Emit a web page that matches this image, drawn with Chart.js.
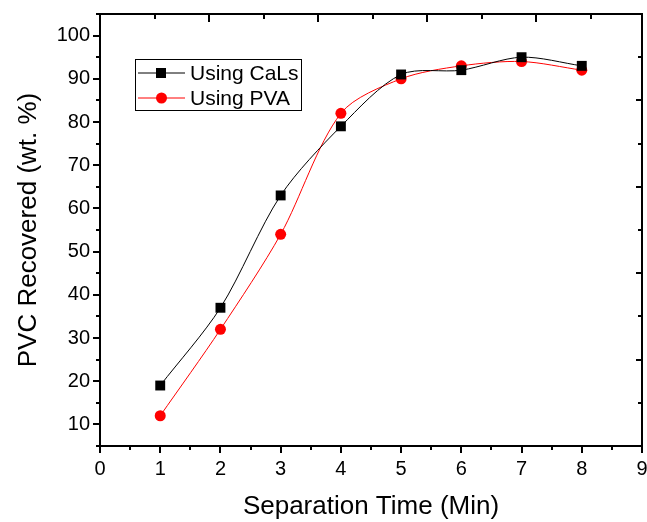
<!DOCTYPE html>
<html>
<head>
<meta charset="utf-8">
<script src="https://cdn.jsdelivr.net/npm/chart.js@4.4.1/dist/chart.umd.min.js"></script>
<style>
  html, body { margin: 0; padding: 0; background: #fff; }
  #wrap { width: 647px; height: 522px; }
</style>
</head>
<body>
<div id="wrap"><canvas id="chart" width="647" height="522"></canvas></div>
<script>
// data
const times = [1, 2, 3, 4, 5, 6, 7, 8];
const calsValues = [19, 37, 63, 79, 91, 92, 95, 93];
const pvaValues = [12, 32, 54, 82, 90, 93, 94, 92];
const xTicks = [0, 1, 2, 3, 4, 5, 6, 7, 8, 9];
const yTicks = [10, 20, 30, 40, 50, 60, 70, 80, 90, 100];

const FONT = "'Liberation Sans', Arial, sans-serif";

function toPoints(xs, ys) {
  return xs.map((x, i) => ({ x: x, y: ys[i] }));
}

// axis frame, outward ticks on left/bottom, inward ticks on top/right (Origin style)
const framePlugin = {
  id: "frame",
  afterDatasetsDraw(chart) {
    const ctx = chart.ctx;
    const a = chart.chartArea;
    const xs = chart.scales.x;
    const ys = chart.scales.y;
    ctx.save();
    ctx.strokeStyle = "#000";
    ctx.lineWidth = 2;
    ctx.strokeRect(a.left, a.top, a.right - a.left, a.bottom - a.top);
    ctx.beginPath();
    // bottom ticks
    for (let v = xs.min; v <= xs.max + 1e-9; v += 0.5) {
      const px = Math.round(xs.getPixelForValue(v));
      const len = Number.isInteger(v) ? 7 : 4;
      ctx.moveTo(px, a.bottom);
      ctx.lineTo(px, a.bottom + len);
    }
    // left ticks
    for (let v = 5; v <= ys.max + 1e-9; v += 5) {
      const py = Math.round(ys.getPixelForValue(v));
      const len = v % 10 === 0 ? 7 : 4;
      ctx.moveTo(a.left, py);
      ctx.lineTo(a.left - len, py);
    }
    // top ticks (inward)
    const topStep = (a.right - a.left) / 9.94;
    for (let k = 1; a.left + k * topStep < a.right - 2; k++) {
      const px = Math.round(a.left + k * topStep);
      ctx.moveTo(px, a.top);
      ctx.lineTo(px, a.top + (k % 2 === 0 ? 8 : 5));
    }
    // right ticks (inward)
    for (let v = 95, k = 0; v > ys.min; v -= 10, k++) {
      const py = Math.round(ys.getPixelForValue(v));
      ctx.moveTo(a.right, py);
      ctx.lineTo(a.right - (k % 2 === 1 ? 6 : 4), py);
    }
    ctx.stroke();

    // legend box
    const lx = 135, ly = 59, lw = 166, lh = 51;
    ctx.lineWidth = 1;
    ctx.strokeRect(lx + 0.5, ly + 0.5, lw, lh);
    ctx.font = "21px " + FONT;
    ctx.textBaseline = "middle";
    chart.data.datasets.forEach((ds, i) => {
      const cy = ly + 14 + i * 25;
      ctx.strokeStyle = ds.borderColor;
      ctx.lineWidth = 1;
      ctx.beginPath();
      ctx.moveTo(lx + 3, cy);
      ctx.lineTo(lx + 50, cy);
      ctx.stroke();
      ctx.fillStyle = ds.pointBackgroundColor;
      if (ds.pointStyle === "rect") {
        ctx.fillRect(lx + 21, cy - 5, 10, 10);
      } else {
        ctx.beginPath();
        ctx.arc(lx + 26.5, cy, 5.5, 0, Math.PI * 2);
        ctx.fill();
      }
      ctx.fillStyle = "#000";
      ctx.fillText(ds.label, lx + 55, cy + 1);
    });
    ctx.restore();
  },
};

new Chart(document.getElementById("chart"), {
  type: "line",
  data: {
    datasets: [
      {
        label: "Using CaLs",
        data: toPoints(times, calsValues),
        borderColor: "#000000",
        backgroundColor: "#000000",
        borderWidth: 1,
        pointStyle: "rect",
        pointRadius: 7,
        pointHoverRadius: 7,
        pointBackgroundColor: "#000000",
        pointBorderWidth: 0,
        tension: 0.3,
      },
      {
        label: "Using PVA",
        data: toPoints(times, pvaValues),
        borderColor: "#ff0000",
        backgroundColor: "#ff0000",
        borderWidth: 1,
        pointStyle: "circle",
        pointRadius: 5.5,
        pointHoverRadius: 5.5,
        pointBackgroundColor: "#ff0000",
        pointBorderWidth: 0,
        tension: 0.3,
      },
    ],
  },
  options: {
    responsive: false,
    animation: false,
    layout: { autoPadding: false, padding: { top: 14, right: 5, left: 0, bottom: 0 } },
    plugins: {
      legend: { display: false },
      tooltip: { enabled: false },
    },
    scales: {
      x: {
        type: "linear",
        min: 0,
        max: 9,
        afterBuildTicks(scale) {
          scale.ticks = xTicks.map((v) => ({ value: v }));
        },
        afterFit(scale) {
          scale.height = 76;
          scale.paddingLeft = 0;
          scale.paddingRight = 0;
        },
        grid: { display: false, drawTicks: false },
        border: { display: false },
        ticks: {
          color: "#000",
          padding: 11,
          maxRotation: 0,
          font: { family: FONT, size: 20 },
        },
        title: {
          display: true,
          text: "Separation Time (Min)",
          color: "#000",
          font: { family: FONT, size: 26 },
          padding: { top: 0, bottom: 0 },
        },
      },
      y: {
        type: "linear",
        min: 5,
        max: 105,
        afterBuildTicks(scale) {
          scale.ticks = yTicks.map((v) => ({ value: v }));
        },
        afterFit(scale) {
          scale.width = 100;
          scale.paddingTop = 0;
          scale.paddingBottom = 0;
        },
        grid: { display: false, drawTicks: false },
        border: { display: false },
        ticks: {
          color: "#000",
          padding: 10,
          font: { family: FONT, size: 20 },
        },
        title: {
          display: true,
          text: "PVC Recovered (wt. %)",
          color: "#000",
          font: { family: FONT, size: 26 },
          padding: { top: 13, bottom: 0 },
        },
      },
    },
  },
  plugins: [framePlugin],
});
</script>
</body>
</html>
